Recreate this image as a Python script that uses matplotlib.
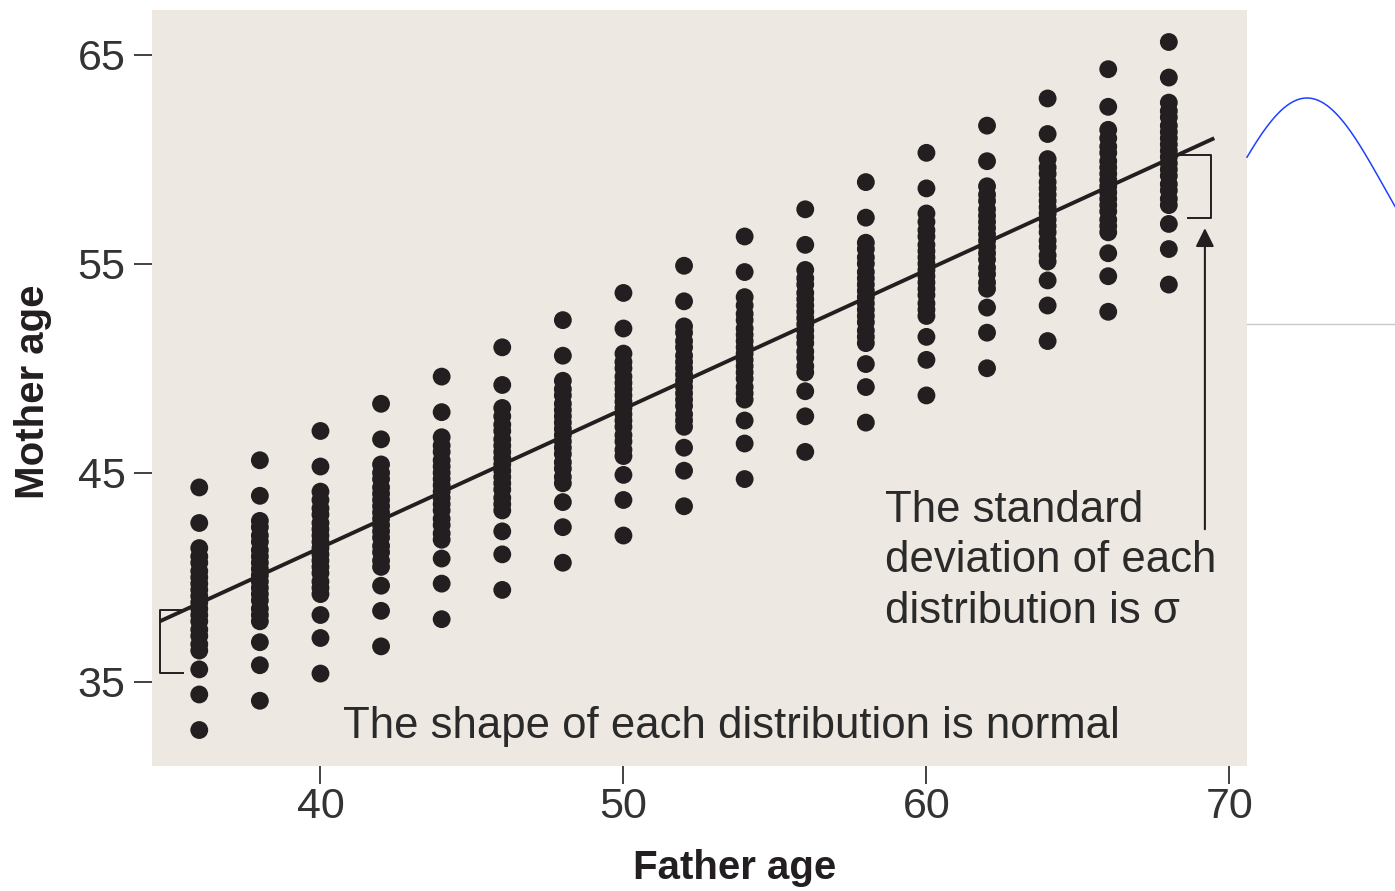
import numpy as np
import matplotlib
matplotlib.use("Agg")
import matplotlib.pyplot as plt

plt.rcParams["font.family"] = ["Liberation Sans", "DejaVu Sans"]

# father age of each column of dots
father_ages = [36, 38, 40, 42, 44, 46, 48, 50, 52, 54, 56, 58, 60, 62, 64, 66, 68]

# mother ages (outer dots + dense core)
mother_ages = [
    [44.3, 42.6, 41.4, 41.0, 40.7, 40.3, 40.0, 39.7, 39.4, 39.1, 38.8, 38.5, 38.2, 37.9, 37.5, 37.2, 36.8, 36.5, 35.6, 34.4, 32.7],
    [45.6, 43.9, 42.7, 42.4, 42.0, 41.7, 41.3, 41.0, 40.7, 40.4, 40.1, 39.8, 39.5, 39.2, 38.9, 38.5, 38.2, 37.9, 36.9, 35.8, 34.1],
    [47.0, 45.3, 44.1, 43.7, 43.3, 43.0, 42.6, 42.3, 42.0, 41.7, 41.4, 41.1, 40.8, 40.5, 40.2, 39.8, 39.5, 39.2, 38.2, 37.1, 35.4],
    [48.3, 46.6, 45.4, 45.0, 44.7, 44.3, 44.0, 43.7, 43.4, 43.1, 42.8, 42.5, 42.2, 41.9, 41.5, 41.2, 40.8, 40.5, 39.6, 38.4, 36.7],
    [49.6, 47.9, 46.7, 46.3, 46.0, 45.6, 45.3, 45.0, 44.7, 44.4, 44.1, 43.8, 43.5, 43.2, 42.8, 42.5, 42.1, 41.8, 40.9, 39.7, 38.0],
    [51.0, 49.2, 48.1, 47.7, 47.3, 47.0, 46.6, 46.3, 46.0, 45.7, 45.4, 45.1, 44.8, 44.5, 44.2, 43.8, 43.5, 43.2, 42.2, 41.1, 39.4],
    [52.3, 50.6, 49.4, 49.0, 48.7, 48.3, 48.0, 47.7, 47.4, 47.1, 46.8, 46.5, 46.2, 45.9, 45.5, 45.2, 44.8, 44.5, 43.6, 42.4, 40.7],
    [53.6, 51.9, 50.7, 50.3, 50.0, 49.6, 49.3, 49.0, 48.7, 48.4, 48.1, 47.8, 47.5, 47.2, 46.8, 46.5, 46.1, 45.8, 44.9, 43.7, 42.0],
    [54.9, 53.2, 52.0, 51.7, 51.3, 51.0, 50.6, 50.3, 50.0, 49.7, 49.4, 49.1, 48.8, 48.5, 48.2, 47.8, 47.5, 47.2, 46.2, 45.1, 43.4],
    [56.3, 54.6, 53.4, 53.0, 52.6, 52.3, 51.9, 51.6, 51.3, 51.0, 50.7, 50.4, 50.1, 49.8, 49.5, 49.1, 48.8, 48.5, 47.5, 46.4, 44.7],
    [57.6, 55.9, 54.7, 54.3, 54.0, 53.6, 53.3, 53.0, 52.7, 52.4, 52.1, 51.8, 51.5, 51.2, 50.8, 50.5, 50.1, 49.8, 48.9, 47.7, 46.0],
    [58.9, 57.2, 56.0, 55.7, 55.3, 55.0, 54.6, 54.3, 54.0, 53.7, 53.4, 53.1, 52.8, 52.5, 52.2, 51.8, 51.5, 51.2, 50.2, 49.1, 47.4],
    [60.3, 58.6, 57.4, 57.0, 56.6, 56.3, 55.9, 55.6, 55.3, 55.0, 54.7, 54.4, 54.1, 53.8, 53.5, 53.1, 52.8, 52.5, 51.5, 50.4, 48.7],
    [61.6, 59.9, 58.7, 58.3, 58.0, 57.6, 57.3, 57.0, 56.7, 56.4, 56.1, 55.8, 55.5, 55.2, 54.8, 54.5, 54.1, 53.8, 52.9, 51.7, 50.0],
    [62.9, 61.2, 60.0, 59.6, 59.3, 58.9, 58.6, 58.3, 58.0, 57.7, 57.4, 57.1, 56.8, 56.5, 56.1, 55.8, 55.4, 55.1, 54.2, 53.0, 51.3],
    [64.3, 62.5, 61.4, 61.0, 60.6, 60.3, 59.9, 59.6, 59.3, 59.0, 58.7, 58.4, 58.1, 57.8, 57.5, 57.1, 56.8, 56.5, 55.5, 54.4, 52.7],
    [65.6, 63.9, 62.7, 62.3, 62.0, 61.6, 61.3, 61.0, 60.7, 60.4, 60.1, 59.8, 59.5, 59.2, 58.8, 58.5, 58.1, 57.8, 56.9, 55.7, 54.0],
]

# regression line end points
line_x = [34.7, 69.5]
line_y = [37.9, 61.0]

x_ticks = [40, 50, 60, 70]
y_ticks = [35, 45, 55, 65]

ink = "#231f20"
bg = "#ede8e1"

fig = plt.figure(figsize=(13.95, 8.91), dpi=100)
ax = fig.add_axes([152 / 1395, 1 - 766 / 891, 1095 / 1395, 756 / 891])
ax.set_facecolor(bg)

for fa, col in zip(father_ages, mother_ages):
    ax.scatter([fa] * len(col), col, s=165, color=ink, edgecolors="none", zorder=3)

ax.plot(line_x, line_y, color=ink, lw=2.8, zorder=4, solid_capstyle="butt")

# sigma brackets
ax.plot([35.46, 34.71, 34.71, 35.46], [38.44, 38.44, 35.43, 35.43], color=ink, lw=1.4, zorder=2)
ax.plot([68.3, 69.39, 69.39, 68.63], [60.2, 60.2, 57.2, 57.2], color=ink, lw=1.4, zorder=2)

ax.annotate("", xy=(69.19, 56.7), xytext=(69.19, 42.3),
            arrowprops=dict(arrowstyle="-|>", color=ink, lw=1.5, mutation_scale=28,
                            shrinkA=0, shrinkB=0))

# baseline of the last line sits at the given y
ax.text(58.63, 37.82, "The standard\ndeviation of each\ndistribution is σ",
        fontsize=31.5, color="#2a2a2a", va="baseline", ha="left", linespacing=1.3)
ax.text(40.74, 32.32, "The shape of each distribution is normal",
        fontsize=31.5, color="#2a2a2a", va="baseline", ha="left")

ax.set_xlim(34.44, 70.58)
ax.set_ylim(30.98, 67.13)
ax.set_xticks(x_ticks)
ax.set_yticks(y_ticks)
for s in ax.spines.values():
    s.set_visible(False)
ax.tick_params(axis="both", direction="out", length=13, width=1.3, color="#333333",
               labelsize=31, labelcolor="#333333")
ax.tick_params(axis="x", pad=2)
ax.tick_params(axis="y", pad=6)

fig.text(735 / 1395, 1 - 868 / 891, "Father age", fontsize=29, fontweight="bold",
         color=ink, ha="center", va="center")
fig.text(33 / 1395, 1 - 392 / 891, "Mother age", fontsize=29, fontweight="bold",
         color=ink, ha="center", va="center", rotation=90)

# stray normal curve and rule on the right margin
over = fig.add_axes([0, 0, 1, 1])
over.set_xlim(0, 1395)
over.set_ylim(891, 0)
over.axis("off")
over.patch.set_alpha(0)
cx = np.linspace(1247, 1395, 200)
bell_center, bell_sd, bell_base, bell_height = 1307, 77, 324, 226
over.plot(cx, bell_base - bell_height * np.exp(-0.5 * ((cx - bell_center) / bell_sd) ** 2),
          color="#2040ff", lw=1.1)
over.plot([1247, 1395], [324, 324], color="#c8c8c8", lw=1.0)

fig.savefig("out.png", dpi=100)
